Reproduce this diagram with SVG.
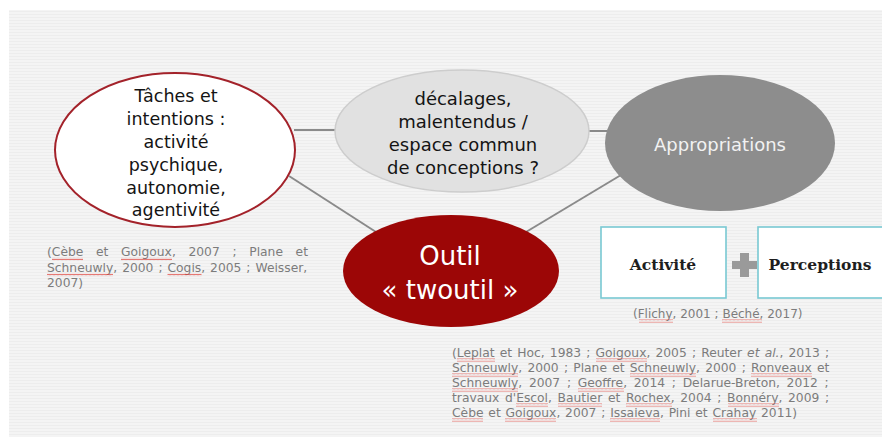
<svg xmlns="http://www.w3.org/2000/svg" width="882" height="437" viewBox="0 0 882 437">
<style>
.t{font-family:"DejaVu Sans","Liberation Sans",sans-serif;text-anchor:middle}
.dk{fill:#141414;font-size:17.5px}
.md{fill:#141414;font-size:18px}
.cit{font-family:"DejaVu Sans","Liberation Sans",sans-serif;font-size:12.3px;fill:#7c7c7c}
.cr{font-size:12px}
.box{fill:#ffffff;stroke:#79c9d3;stroke-width:1.6}
.bx{font-family:"DejaVu Serif","Liberation Serif",serif;font-weight:bold;font-size:15.5px;fill:#1e1e1e;text-anchor:middle}
.sq{fill:url(#wavy)}
</style>
<defs>
<pattern id="stripes" patternUnits="userSpaceOnUse" width="8" height="3">
<rect width="8" height="3" fill="#f4f4f4"/>
<rect y="2" width="8" height="1" fill="#ededed"/>
</pattern>
<pattern id="wavy" patternUnits="userSpaceOnUse" width="4" height="3">
<path d="M0 2.2 L1 0.8 L2 2.2 L3 0.8 L4 2.2" fill="none" stroke="#e0403a" stroke-width="0.7"/>
</pattern>
</defs>
<rect x="9" y="10" width="873" height="427" fill="url(#stripes)"/>

<g id="connectors" stroke="#8a8a8a" stroke-width="2" fill="none">
<line x1="294" y1="130" x2="337" y2="130"/>
<line x1="588" y1="131" x2="607" y2="131"/>
<line x1="289" y1="176" x2="376" y2="232"/>
<line x1="526" y1="232" x2="621" y2="175"/>
</g>

<g id="node-taches">
<ellipse cx="175" cy="150" rx="120" ry="77" fill="#ffffff" stroke="#a3222a" stroke-width="2"/>
<text class="t dk" x="176" y="102">Tâches et</text>
<text class="t dk" x="176" y="125">intentions :</text>
<text class="t dk" x="176" y="148">activité</text>
<text class="t dk" x="176" y="171">psychique,</text>
<text class="t dk" x="176" y="194">autonomie,</text>
<text class="t dk" x="176" y="216">agentivité</text>
</g>

<g id="node-decalages">
<ellipse cx="462" cy="131" rx="127" ry="61" fill="#e1e1e1" stroke="#cdcdcd" stroke-width="1.5"/>
<text class="t md" x="463" y="105">décalages,</text>
<text class="t md" x="463" y="128">malentendus /</text>
<text class="t md" x="463" y="151">espace commun</text>
<text class="t md" x="463" y="174">de conceptions ?</text>
</g>

<g id="node-appropriations">
<ellipse cx="720" cy="143" rx="115" ry="68" fill="#8d8d8d"/>
<text class="t" x="720" y="151" style="font-size:18px;fill:#f2f2f2">Appropriations</text>
</g>

<g id="node-outil">
<ellipse cx="451" cy="271" rx="108" ry="56" fill="#9c0606"/>
<text class="t" x="450" y="265" style="font-size:26px;fill:#ffffff">Outil</text>
<text class="t" x="450" y="299" style="font-size:26px;fill:#ffffff">« twoutil »</text>
</g>

<g id="node-activite">
<rect class="box" x="601" y="227" width="125" height="71"/>
<text class="bx" x="663" y="270">Activité</text>
</g>

<g id="node-plus" fill="#9a9a9a">
<rect x="732" y="261" width="25" height="8"/>
<rect x="740" y="253" width="9" height="24"/>
</g>

<g id="node-perceptions">
<rect class="box" x="758" y="227" width="126" height="71"/>
<text class="bx" x="820" y="270">Perceptions</text>
</g>

<g id="citation-left">
<text class="cit" x="47" y="256" style="word-spacing:8.75px">(Cèbe et Goigoux, 2007 ; Plane et</text>
<text class="cit" x="47" y="272" style="word-spacing:1.05px">Schneuwly, 2000 ; Cogis, 2005 ; Weisser,</text>
<text class="cit" x="47" y="287">2007)</text>
<rect class="sq" x="52" y="257.5" width="31" height="3"/>
<rect class="sq" x="121" y="257.5" width="51" height="3"/>
<rect class="sq" x="47" y="273.5" width="66" height="3"/>
<rect class="sq" x="167.5" y="273.5" width="34" height="3"/>
</g>

<g id="citation-right">
<text class="cit cr" x="633" y="318">(Flichy, 2001 ; Béché, 2017)</text>
<rect class="sq" x="639" y="319.5" width="34" height="3"/>
<rect class="sq" x="722" y="319.5" width="40" height="3"/>
</g>

<g id="citation-bottom">
<text class="cit" x="452" y="357" style="word-spacing:1.23px">(Leplat et Hoc, 1983 ; Goigoux, 2005 ; Reuter <tspan font-style="italic">et al.</tspan>, 2013 ;</text>
<text class="cit" x="452" y="372" style="word-spacing:1.3px">Schneuwly, 2000 ; Plane et Schneuwly, 2000 ; Ronveaux et</text>
<text class="cit" x="452" y="387" style="word-spacing:2.8px">Schneuwly, 2007 ; Geoffre, 2014 ; Delarue-Breton, 2012 ;</text>
<text class="cit" x="452" y="402" style="word-spacing:1.76px">travaux d'Escol, Bautier et Rochex, 2004 ; Bonnéry, 2009 ;</text>
<text class="cit" x="452" y="417" style="word-spacing:0.9px">Cèbe et Goigoux, 2007 ; Issaieva, Pini et Crahay 2011)</text>
<rect class="sq" x="457" y="358.5" width="38" height="3"/>
<rect class="sq" x="596" y="358.5" width="51" height="3"/>
<rect class="sq" x="452" y="373.5" width="66" height="3"/>
<rect class="sq" x="630" y="373.5" width="66" height="3"/>
<rect class="sq" x="751" y="373.5" width="61" height="3"/>
<rect class="sq" x="452" y="388.5" width="66" height="3"/>
<rect class="sq" x="578" y="388.5" width="46" height="3"/>
<rect class="sq" x="516" y="403.5" width="32" height="3"/>
<rect class="sq" x="558" y="403.5" width="44" height="3"/>
<rect class="sq" x="626" y="403.5" width="46" height="3"/>
<rect class="sq" x="728" y="403.5" width="51" height="3"/>
<rect class="sq" x="452" y="418.5" width="31" height="3"/>
<rect class="sq" x="505" y="418.5" width="51" height="3"/>
<rect class="sq" x="610" y="418.5" width="50" height="3"/>
<rect class="sq" x="713" y="418.5" width="44" height="3"/>
</g>
</svg>
